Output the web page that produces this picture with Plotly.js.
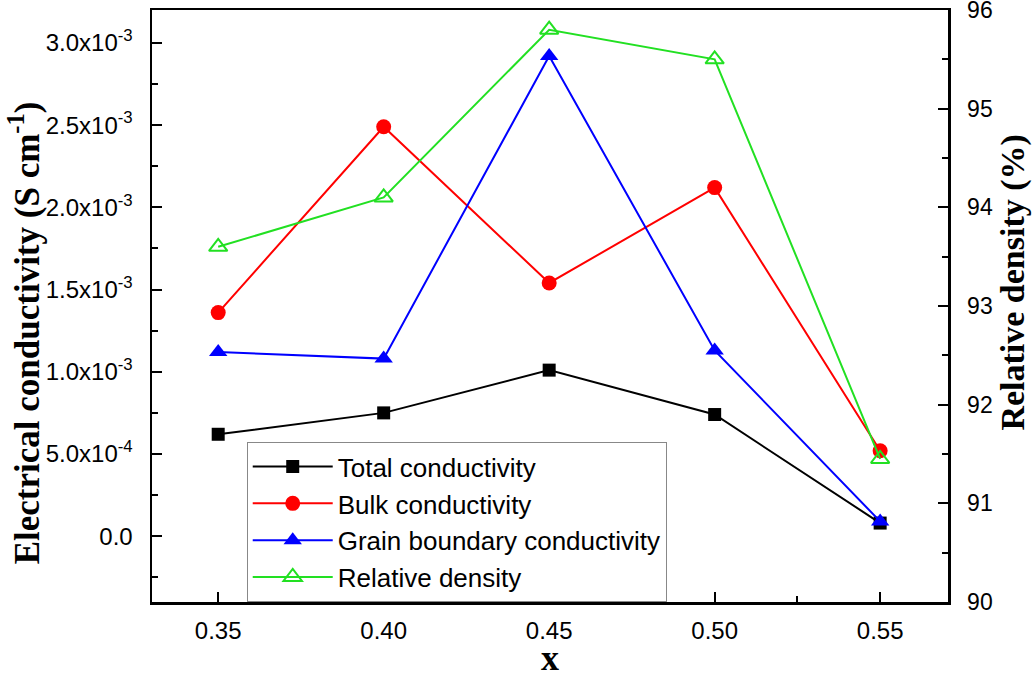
<!DOCTYPE html>
<html>
<head>
<meta charset="utf-8">
<script src="https://cdn.plot.ly/plotly-3.0.1.min.js"></script>
<style>
	body { margin: 0; background: #fff; }
	#chart { width: 1034px; height: 678px; }
</style>
</head>
<body>
<div id="chart"></div>
<script>
'use strict';

// x values (composition)
var xVals = [0.35, 0.40, 0.45, 0.50, 0.55];

// conductivities in S cm^-1
var totalCond = [0.62e-3, 0.75e-3, 1.01e-3, 0.74e-3, 0.08e-3];
var bulkCond = [1.36e-3, 2.49e-3, 1.54e-3, 2.12e-3, 0.52e-3];
var grainCond = [1.12e-3, 1.08e-3, 2.92e-3, 1.13e-3, 0.09e-3];

// relative density in %
var relDensity = [93.6, 94.1, 95.8, 95.5, 91.45];

// tick labels
var xTickVals = [0.35, 0.40, 0.45, 0.50, 0.55];
var xTickText = ['0.35', '0.40', '0.45', '0.50', '0.55'];
var condTickVals = [0, 5e-4, 1e-3, 1.5e-3, 2e-3, 2.5e-3, 3e-3];
var condTickText = ['0.0', '5.0x10<sup>-4</sup>', '1.0x10<sup>-3</sup>', '1.5x10<sup>-3</sup>',
	'2.0x10<sup>-3</sup>', '2.5x10<sup>-3</sup>', '3.0x10<sup>-3</sup>'];
var densTickVals = [90, 91, 92, 93, 94, 95, 96];
var densTickText = ['90', '91', '92', '93', '94', '95', '96'];

var tickFont = { family: 'Liberation Sans, Arial, sans-serif', size: 24, color: '#000' };
var serif = 'Liberation Serif, Times New Roman, serif';

var createChart = function () {
	var traces = [
		{
			x: xVals, y: totalCond, name: 'Total conductivity',
			type: 'scatter', mode: 'lines+markers',
			line: { color: '#000000', width: 2 },
			marker: { symbol: 'square', size: 13, color: '#000000' },
		},
		{
			x: xVals, y: bulkCond, name: 'Bulk conductivity',
			type: 'scatter', mode: 'lines+markers',
			line: { color: '#ff0000', width: 2 },
			marker: { symbol: 'circle', size: 15, color: '#ff0000' },
		},
		{
			x: xVals, y: grainCond, name: 'Grain boundary conductivity',
			type: 'scatter', mode: 'lines+markers',
			line: { color: '#0000ff', width: 2 },
			marker: { symbol: 'triangle-up', size: 16, color: '#0000ff' },
		},
		{
			x: xVals, y: relDensity, name: 'Relative density', yaxis: 'y2',
			type: 'scatter', mode: 'lines+markers',
			line: { color: '#22e022', width: 2 },
			marker: { symbol: 'triangle-up-open', size: 16, color: '#22e022', line: { width: 2 } },
		},
	];

	var layout = {
		width: 1034,
		height: 678,
		margin: { l: 152, r: 86, t: 10, b: 76, pad: 0 },
		paper_bgcolor: '#fff',
		plot_bgcolor: '#fff',
		showlegend: true,
		legend: {
			x: 0.119, y: 0.27, xanchor: 'left', yanchor: 'top',
			bgcolor: '#fff', bordercolor: '#888', borderwidth: 1,
			font: { family: 'Liberation Sans, Arial, sans-serif', size: 26, color: '#000' },
			tracegroupgap: 0,
			itemwidth: 80,
		},
		xaxis: {
			range: [0.33, 0.5705],
			tickvals: xTickVals,
			ticktext: xTickText,
			ticks: 'inside', ticklen: 10, tickwidth: 2, tickcolor: '#000',
			minor: { dtick: 0.025, tick0: 0.325, ticks: 'inside', ticklen: 6, tickwidth: 2, tickcolor: '#000' },
			showline: true, linewidth: 2.5, linecolor: '#000', mirror: true,
			showgrid: false, zeroline: false,
			tickfont: tickFont,
			ticklabelstandoff: 6,
			title: { text: 'x', font: { family: serif, size: 36, color: '#000', weight: 'bold' }, standoff: 8 },
		},
		yaxis: {
			range: [-0.4e-3, 3.2e-3],
			tickvals: condTickVals,
			ticktext: condTickText,
			ticks: 'inside', ticklen: 10, tickwidth: 2, tickcolor: '#000',
			minor: { dtick: 2.5e-4, tick0: 0, ticks: 'inside', ticklen: 6, tickwidth: 2, tickcolor: '#000' },
			showline: true, linewidth: 2.5, linecolor: '#000',
			showgrid: false, zeroline: false,
			tickfont: tickFont,
			ticklabelstandoff: 12,
			ticklabeloverflow: 'allow',
		},
		yaxis2: {
			overlaying: 'y', side: 'right',
			range: [90, 96],
			tickvals: densTickVals,
			ticktext: densTickText,
			ticks: 'inside', ticklen: 10, tickwidth: 2, tickcolor: '#000',
			minor: { dtick: 0.5, tick0: 90, ticks: 'inside', ticklen: 6, tickwidth: 2, tickcolor: '#000' },
			showline: true, linewidth: 2.5, linecolor: '#000',
			showgrid: false, zeroline: false,
			tickfont: { family: tickFont.family, size: 23, color: '#000' },
			ticklabelstandoff: 12,
			ticklabeloverflow: 'allow',
		},
		// y axis titles as rotated annotations so they sit where the original has them
		annotations: [
			{
				text: 'Electrical conductivity (S cm<sup>-1</sup>)',
				xref: 'paper', yref: 'paper', x: -0.16, y: 0.455,
				xanchor: 'center', yanchor: 'middle', textangle: -90, showarrow: false,
				font: { family: serif, size: 35, color: '#000', weight: 'bold' },
			},
			{
				text: 'Relative density (%)',
				xref: 'paper', yref: 'paper', x: 1.082, y: 0.54,
				xanchor: 'center', yanchor: 'middle', textangle: -90, showarrow: false,
				font: { family: serif, size: 34, color: '#000', weight: 'bold' },
			},
		],
	};

	Plotly.newPlot('chart', traces, layout, { displayModeBar: false, staticPlot: true });
};

document.addEventListener('DOMContentLoaded', createChart);
</script>
</body>
</html>
